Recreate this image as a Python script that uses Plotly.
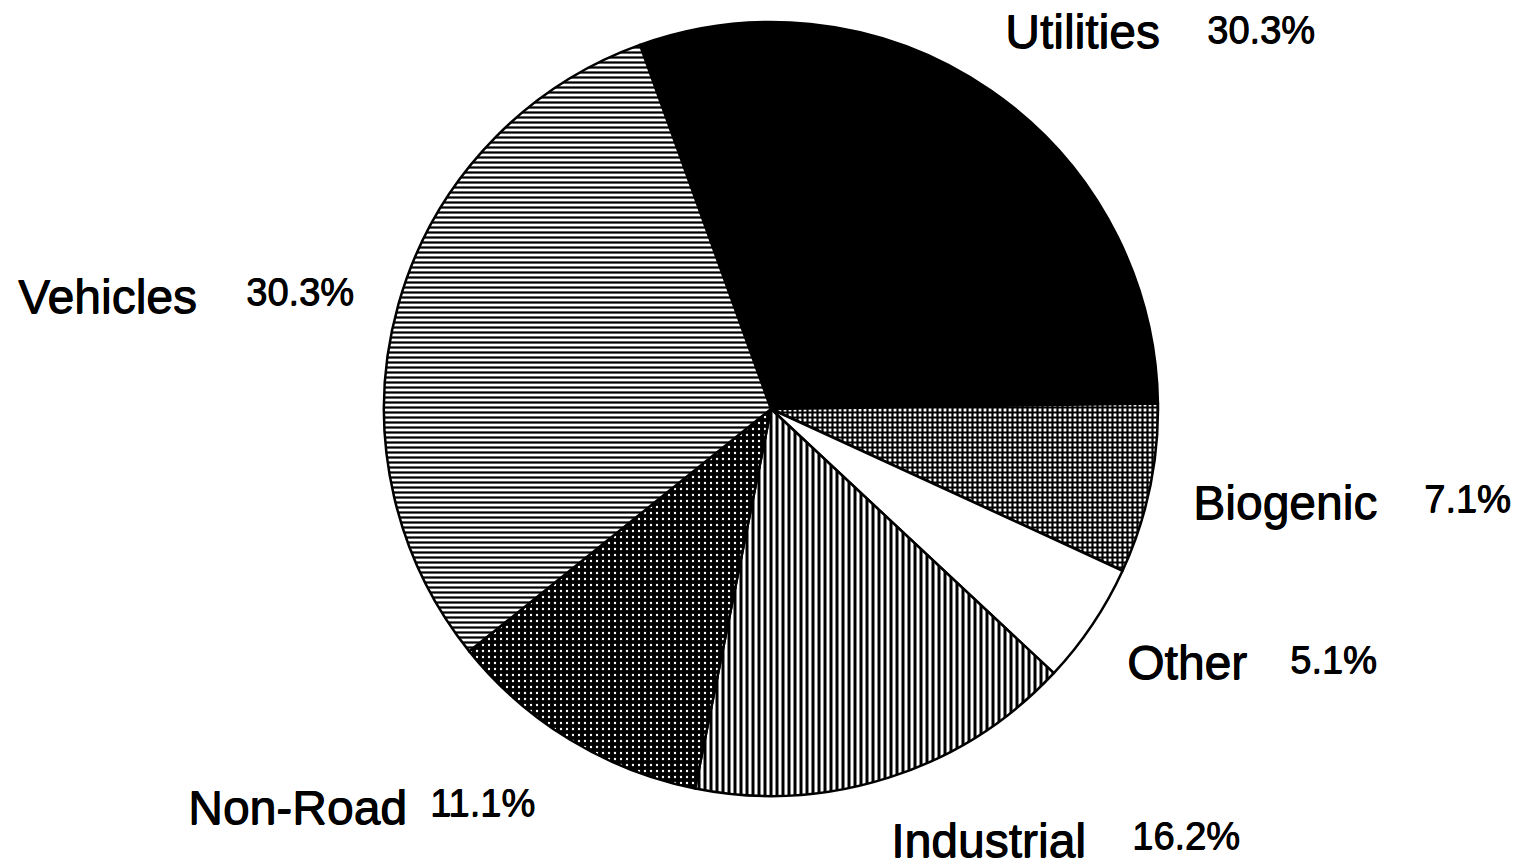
import plotly.graph_objects as go

# Emission sources and their percentage shares
sources = ["Utilities", "Biogenic", "Other", "Industrial", "Non-Road", "Vehicles"]
shares = [30.3, 7.1, 5.1, 16.2, 11.1, 30.3]

# Slice fills (black & white hatching)
fill_colors = ["black", "white", "white", "white", "black", "white"]
pattern_shapes = ["", "+", "", "|", ".", "-"]
pattern_fg = ["black", "black", "black", "black", "white", "black"]
pattern_sizes = [6, 5, 6, 6, 6, 5]
pattern_solidity = [0.5, 0.68, 0.5, 0.5, 0.12, 0.45]

# Label placement in pixels: (name left x, name centre y, pct left x, pct centre y)
W, H = 1526, 868
label_pos = [
    (1003, 32, 1205, 30),   # Utilities
    (1191, 503, 1422, 499), # Biogenic
    (1125, 662, 1288, 660), # Other
    (889, 840, 1130, 836),  # Industrial
    (186, 807, 428, 803),   # Non-Road
    (16, 296, 244, 292),    # Vehicles
]

cx, cy, r = 771, 409, 387

fig = go.Figure(
    go.Pie(
        labels=sources,
        values=shares,
        sort=False,
        direction="clockwise",
        rotation=-19.8,
        textinfo="none",
        hoverinfo="label+value",
        showlegend=False,
        marker=dict(
            colors=fill_colors,
            line=dict(color="black", width=2.5),
            pattern=dict(
                shape=pattern_shapes,
                fgcolor=pattern_fg,
                fgopacity=1,
                size=pattern_sizes,
                solidity=pattern_solidity,
                fillmode="overlay",
            ),
        ),
        domain=dict(
            x=[(cx - r) / W, (cx + r) / W],
            y=[1 - (cy + r) / H, 1 - (cy - r) / H],
        ),
    )
)

# Slightly heavier strokes for the printed-style labels
heavy = "0.8px 0px 0px black, 0px 0.6px 0px black"

annotations = []
for name, val, (nx, ny, px, py) in zip(sources, shares, label_pos):
    annotations.append(dict(
        x=nx / W, y=1 - ny / H, xref="paper", yref="paper",
        xanchor="left", yanchor="middle", showarrow=False,
        text=name,
        font=dict(family="Liberation Sans, Arial", size=48, color="black", shadow=heavy),
    ))
    annotations.append(dict(
        x=px / W, y=1 - py / H, xref="paper", yref="paper",
        xanchor="left", yanchor="middle", showarrow=False,
        text=f"{val:.1f}%",
        font=dict(family="Liberation Sans, Arial", size=38, color="black", shadow=heavy),
    ))

fig.update_layout(
    width=W,
    height=H,
    margin=dict(l=0, r=0, t=0, b=0),
    paper_bgcolor="white",
    plot_bgcolor="white",
    annotations=annotations,
)

fig.write_html("out.html")
